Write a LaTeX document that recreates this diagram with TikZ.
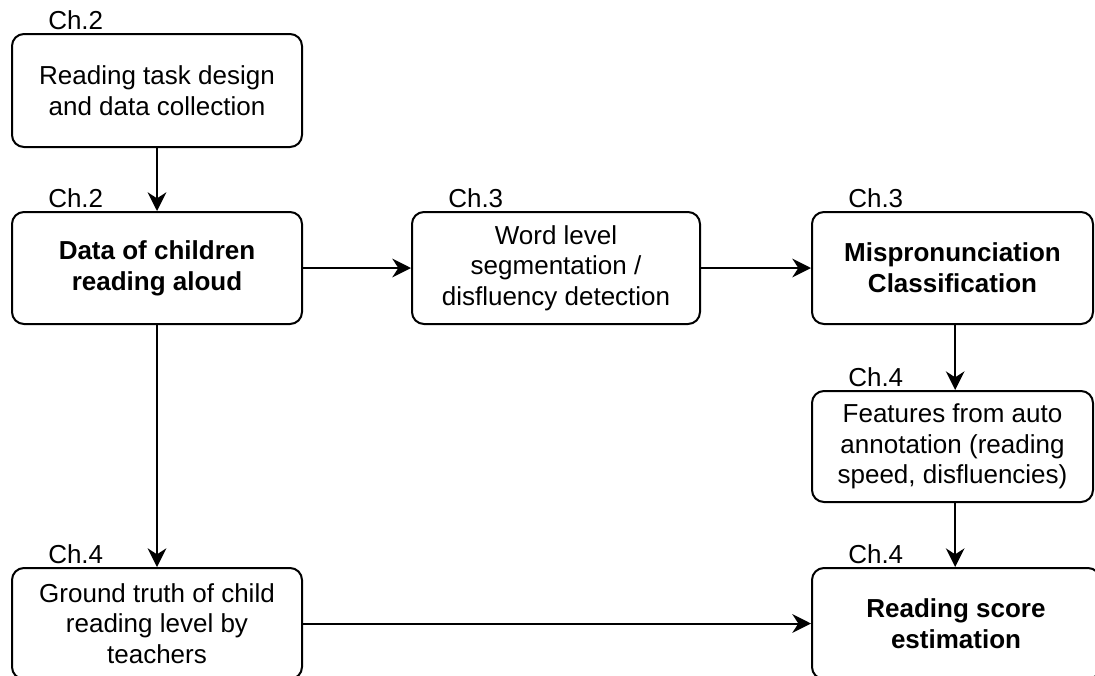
\documentclass[tikz,border=0pt]{standalone}
\usepackage{fontspec}
\setmainfont{Liberation Sans}
\usetikzlibrary{arrows.meta}
\begin{document}
\begin{tikzpicture}[x=0.75pt,y=-0.75pt,
  box/.style={draw=black, line width=1.5pt, rounded corners=9pt, fill=white,
    align=center, inner sep=0pt, font=\fontsize{19.5}{23}\selectfont},
  boldbox/.style={box, font=\fontsize{19.5}{23}\selectfont\bfseries},
  chlabel/.style={anchor=base west, inner sep=0pt, font=\fontsize{19.5}{23}\selectfont},
  arr/.style={line width=1.5pt, -{Stealth[length=14pt, width=14pt, inset=4.5pt]}}]
\clip (0,0) rectangle (1095,675);
\fill[white] (0,0) rectangle (1095,675);

\node[box, minimum width=217.5pt, minimum height=84.75pt] (b1) at (157,90.5)
  {Reading task design\\and data collection};
\node[boldbox, minimum width=217.5pt, minimum height=84pt] (b2) at (157,268)
  {Data of children\\reading aloud};
\node[box, minimum width=216pt, minimum height=84pt] (b3) at (556,268)
  {Word level\\segmentation /\\disfluency detection};
\node[boldbox, minimum width=210.75pt, minimum height=84pt] (b4) at (952.5,268)
  {Mispronunciation\\Classification};
\node[box, minimum width=210.75pt, minimum height=83.25pt] (b5) at (952.5,446.5)
  {Features from auto\\annotation (reading\\speed, disfluencies)};
\node[box, minimum width=217.5pt, minimum height=83.25pt] (b6) at (157,623.5)
  {Ground truth of child\\reading level by\\teachers};
\node[boldbox, minimum width=216pt, minimum height=83.25pt] (b7) at (956,623.5)
  {Reading score\\estimation};

\foreach \b/\t in {b1/Ch.2, b2/Ch.2, b3/Ch.3, b4/Ch.3, b5/Ch.4, b6/Ch.4, b7/Ch.4}{
  \node[chlabel] (l\b) at ([xshift=27.75pt, yshift=2.5pt]\b.north west) {\t};
}

\draw[arr] (b1) -- (b2);
\draw[arr] (b2) -- (b3);
\draw[arr] (b3) -- (b4);
\draw[arr] ([xshift=2pt]b4.south) -- ([xshift=2pt]b5.north);
\draw[arr] ([xshift=2pt]b5.south) -- ([xshift=2pt]b5.south |- b7.north);
\draw[arr] (b2) -- (b6);
\draw[arr] (b6) -- (b7);
\end{tikzpicture}
\end{document}
